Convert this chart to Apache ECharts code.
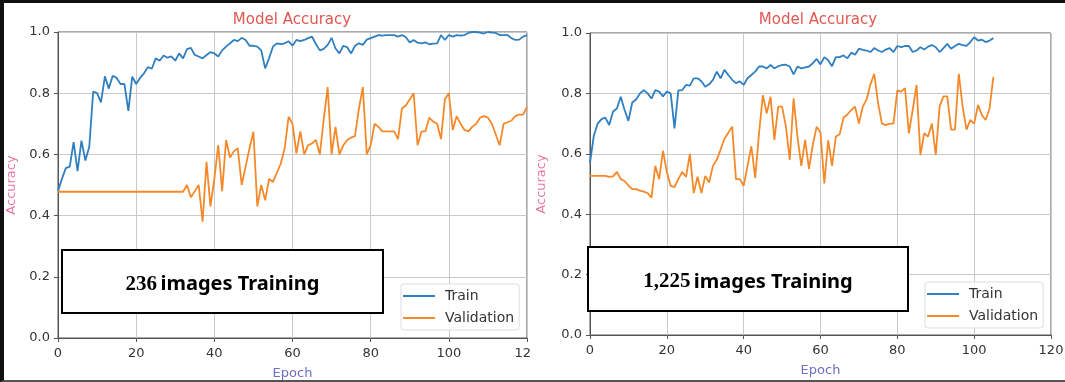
<!DOCTYPE html>
<html>
<head>
<meta charset="utf-8">
<script src="https://cdn.jsdelivr.net/npm/echarts@6/dist/echarts.min.js"></script>
<style>
  html, body { margin: 0; padding: 0; background: #fff; }
  #page { position: relative; width: 1065px; height: 382px; overflow: hidden; background: #fff; }
  .wrap { position: absolute; top: 0; height: 382px; overflow: hidden; }
  #frame { position: absolute; left: 0; top: 0; width: 1065px; height: 382px; box-sizing: border-box;
           border-top: 3px solid #111; border-left: 4px solid #111; border-bottom: 2px solid #555;
           pointer-events: none; }
</style>
</head>
<body>
<div id="page">
  <div class="wrap" style="left:0; width:531px;"><div id="chartL" style="width:560px; height:382px;"></div></div>
  <div class="wrap" style="left:532px; width:533px;"><div id="chartR" style="width:533px; height:382px;"></div></div>
  <div id="frame"></div>
</div>
<script>
// accuracy per epoch, left run (236 images)
const trainSmall = [
  0.48, 0.52, 0.555, 0.56, 0.64, 0.545, 0.645, 0.58, 0.625, 0.805,
  0.80, 0.77, 0.855, 0.815, 0.857, 0.85, 0.83, 0.83, 0.742, 0.854,
  0.83, 0.85, 0.865, 0.885, 0.88, 0.914, 0.906, 0.923, 0.916, 0.92,
  0.906, 0.93, 0.914, 0.944, 0.948, 0.925, 0.92, 0.914, 0.925, 0.934,
  0.93, 0.92, 0.94, 0.952, 0.963, 0.974, 0.97, 0.981, 0.974, 0.955,
  0.955, 0.952, 0.94, 0.881, 0.914, 0.952, 0.963, 0.96, 0.963, 0.97,
  0.955, 0.974, 0.97, 0.974, 0.98, 0.985, 0.96, 0.94, 0.945, 0.958,
  0.981, 0.946, 0.93, 0.955, 0.95, 0.93, 0.955, 0.963, 0.958, 0.975,
  0.98, 0.985, 0.99, 0.988, 0.99, 0.99, 0.99, 0.985, 0.99, 0.983,
  0.966, 0.974, 0.965, 0.963, 0.966, 0.96, 0.962, 0.963, 0.99, 0.974,
  0.99, 0.985, 0.99, 0.988, 0.99, 0.997, 1.0, 1.0, 0.998, 0.995,
  1.0, 0.998, 0.997, 0.99, 0.99, 0.99, 0.98, 0.974, 0.975, 0.985,
  0.99
];
const valSmall = [
  0.478, 0.478, 0.478, 0.478, 0.478, 0.478, 0.478, 0.478, 0.478, 0.478,
  0.478, 0.478, 0.478, 0.478, 0.478, 0.478, 0.478, 0.478, 0.478, 0.478,
  0.478, 0.478, 0.478, 0.478, 0.478, 0.478, 0.478, 0.478, 0.478, 0.478,
  0.478, 0.478, 0.478, 0.50, 0.46, 0.48, 0.50, 0.38, 0.576, 0.43,
  0.52, 0.63, 0.48, 0.647, 0.59, 0.61, 0.62, 0.50, 0.56, 0.62,
  0.674, 0.43, 0.50, 0.45, 0.52, 0.51, 0.54, 0.57, 0.62, 0.723,
  0.70, 0.603, 0.675, 0.60, 0.63, 0.636, 0.647, 0.60, 0.715, 0.82,
  0.60, 0.69, 0.60, 0.63, 0.647, 0.655, 0.66, 0.75, 0.82, 0.60,
  0.63, 0.70, 0.69, 0.675, 0.675, 0.675, 0.675, 0.65, 0.75, 0.76,
  0.78, 0.80, 0.63, 0.675, 0.675, 0.72, 0.707, 0.70, 0.65, 0.78,
  0.80, 0.68, 0.725, 0.70, 0.68, 0.675, 0.69, 0.70, 0.72, 0.725,
  0.72, 0.70, 0.665, 0.63, 0.70, 0.705, 0.71, 0.725, 0.73, 0.73,
  0.755
];
// accuracy per epoch, right run (1,225 images)
const trainLarge = [
  0.57, 0.66, 0.70, 0.715, 0.72, 0.695, 0.74, 0.75, 0.789, 0.745,
  0.709, 0.77, 0.78, 0.80, 0.811, 0.80, 0.783, 0.811, 0.806, 0.79,
  0.806, 0.80, 0.684, 0.81, 0.811, 0.828, 0.826, 0.85, 0.85, 0.84,
  0.822, 0.83, 0.845, 0.872, 0.85, 0.878, 0.861, 0.845, 0.834, 0.84,
  0.828, 0.85, 0.861, 0.872, 0.889, 0.889, 0.883, 0.894, 0.883, 0.89,
  0.894, 0.895, 0.889, 0.863, 0.889, 0.883, 0.886, 0.889, 0.90, 0.914,
  0.896, 0.92, 0.91, 0.89, 0.92, 0.92, 0.926, 0.916, 0.935, 0.928,
  0.948, 0.944, 0.942, 0.937, 0.95, 0.942, 0.937, 0.945, 0.95, 0.937,
  0.957, 0.953, 0.957, 0.957, 0.937, 0.942, 0.953, 0.945, 0.955, 0.96,
  0.953, 0.937, 0.95, 0.964, 0.948, 0.957, 0.964, 0.96, 0.957, 0.97,
  0.986, 0.975, 0.978, 0.97, 0.975, 0.983
];
const valLarge = [
  0.527, 0.527, 0.527, 0.527, 0.527, 0.524, 0.525, 0.54, 0.516, 0.51,
  0.495, 0.483, 0.483, 0.478, 0.475, 0.47, 0.455, 0.56, 0.516, 0.61,
  0.54, 0.494, 0.49, 0.516, 0.54, 0.524, 0.60, 0.47, 0.524, 0.47,
  0.527, 0.505, 0.56, 0.58, 0.614, 0.65, 0.67, 0.69, 0.516, 0.516,
  0.494, 0.56, 0.625, 0.52, 0.668, 0.794, 0.734, 0.789, 0.646, 0.756,
  0.756, 0.69, 0.58, 0.784, 0.657, 0.56, 0.646, 0.55, 0.63, 0.69,
  0.67, 0.502, 0.645, 0.56, 0.657, 0.665, 0.72, 0.73, 0.745, 0.756,
  0.70, 0.756, 0.78, 0.83, 0.865, 0.767, 0.70, 0.695, 0.70, 0.70,
  0.81, 0.806, 0.817, 0.668, 0.745, 0.828, 0.596, 0.668, 0.657, 0.70,
  0.596, 0.756, 0.79, 0.79, 0.68, 0.68, 0.865, 0.756, 0.68, 0.712,
  0.70, 0.762, 0.728, 0.712, 0.75, 0.855
];
const seriesNames = ['Train', 'Validation'];
const xTicks = { min: 0, max: 120, step: 20 };
const yTicks = { min: 0, max: 1, step: 0.2 };

const BLUE = '#2f7fc1';
const ORANGE = '#f5892a';
const AXIS = '#555';

function toPairs(arr) {
  return arr.map((v, i) => [i, v]);
}

function buildOption(p) {
  return {
    animation: false,
    textStyle: { fontFamily: 'DejaVu Sans' },
    title: {
      text: 'Model Accuracy',
      left: p.titleX, top: 13, padding: 0,
      textAlign: 'center',
      textStyle: { color: '#e2574f', fontSize: 15, fontWeight: 'normal', fontFamily: 'DejaVu Sans' }
    },
    grid: { left: p.grid.left, top: p.grid.top, width: p.grid.width, height: p.grid.height,
            containLabel: false, outerBoundsMode: 'none',
            show: true, borderColor: AXIS, borderWidth: 1, backgroundColor: 'transparent' },
    legend: {
      data: seriesNames,
      orient: 'vertical',
      left: p.legend.left, top: p.legend.top,
      icon: 'rect', itemWidth: 32, itemHeight: 2, itemGap: 8,
      padding: [5, 5, 5, 2],
      borderColor: '#ddd', borderWidth: 1, borderRadius: 3,
      backgroundColor: 'rgba(255,255,255,0.85)',
      textStyle: { color: '#333', fontSize: 14, fontFamily: 'DejaVu Sans', padding: [0, 0, 0, 5] }
    },
    xAxis: {
      type: 'value', min: xTicks.min, max: xTicks.max, interval: xTicks.step,
      name: 'Epoch', nameLocation: 'middle', nameGap: 29,
      nameTextStyle: { color: '#6d70c2', fontSize: 13 },
      axisLine: { show: true, lineStyle: { color: AXIS } },
      axisTick: { show: true, length: 4, lineStyle: { color: AXIS } },
      axisLabel: { color: '#333', fontSize: 13, margin: 9 },
      splitLine: { show: true, lineStyle: { color: '#c9c9c9', width: 1 } }
    },
    yAxis: {
      type: 'value', min: yTicks.min, max: yTicks.max, interval: yTicks.step,
      name: 'Accuracy', nameLocation: 'middle', nameGap: p.yNameGap,
      nameTextStyle: { color: '#ec78a4', fontSize: 13 },
      axisLine: { show: true, lineStyle: { color: AXIS } },
      axisTick: { show: true, length: 4, lineStyle: { color: AXIS } },
      axisLabel: { color: '#333', fontSize: 13, margin: 8, formatter: v => v.toFixed(1) },
      splitLine: { show: true, lineStyle: { color: '#c9c9c9', width: 1 } }
    },
    series: [
      { name: seriesNames[0], type: 'line', data: toPairs(p.train), showSymbol: false,
        lineStyle: { color: BLUE, width: 1.8 }, itemStyle: { color: BLUE }, z: 3 },
      { name: seriesNames[1], type: 'line', data: toPairs(p.val), showSymbol: false,
        lineStyle: { color: ORANGE, width: 1.8 }, itemStyle: { color: ORANGE }, z: 3 }
    ],
    graphic: [
      { type: 'rect', z: 100, shape: { x: p.box.x, y: p.box.y, width: p.box.w, height: p.box.h },
        style: { fill: '#ffffff', stroke: '#000', lineWidth: 2 } },
      { type: 'text', z: 101, x: p.box.x + p.box.w / 2, y: p.box.y + p.box.h / 2 + 3,
        style: {
          text: '{n|' + p.count + '} {t|images Training}',
          align: 'center', verticalAlign: 'middle',
          rich: {
            n: { fontFamily: 'Liberation Serif', fontWeight: 'bold', fontSize: 21, fill: '#000' },
            t: { fontFamily: 'Noto Sans', fontWeight: 'bold', fontSize: 20, fill: '#000' }
          }
        } }
    ]
  };
}

function draw() {
  const left = echarts.init(document.getElementById('chartL'));
  left.setOption(buildOption({
    titleX: 292,
    grid: { left: 58, top: 32, width: 469, height: 306 },
    legend: { left: 401, top: 284 },
    yNameGap: 39,
    box: { x: 62, y: 250, w: 321, h: 63 },
    count: '236',
    train: trainSmall, val: valSmall
  }));

  const right = echarts.init(document.getElementById('chartR'));
  right.setOption(buildOption({
    titleX: 286,
    grid: { left: 58, top: 33, width: 461, height: 302 },
    legend: { left: 393, top: 282 },
    yNameGap: 42,
    box: { x: 56, y: 247, w: 320, h: 64 },
    count: '1,225',
    train: trainLarge, val: valLarge
  }));
}

// make sure the box fonts are ready before text gets measured
Promise.all([
  document.fonts.load('bold 21px "Liberation Serif"'),
  document.fonts.load('bold 20px "Noto Sans"'),
  document.fonts.load('13px "DejaVu Sans"')
]).then(draw, draw);
</script>
</body>
</html>
